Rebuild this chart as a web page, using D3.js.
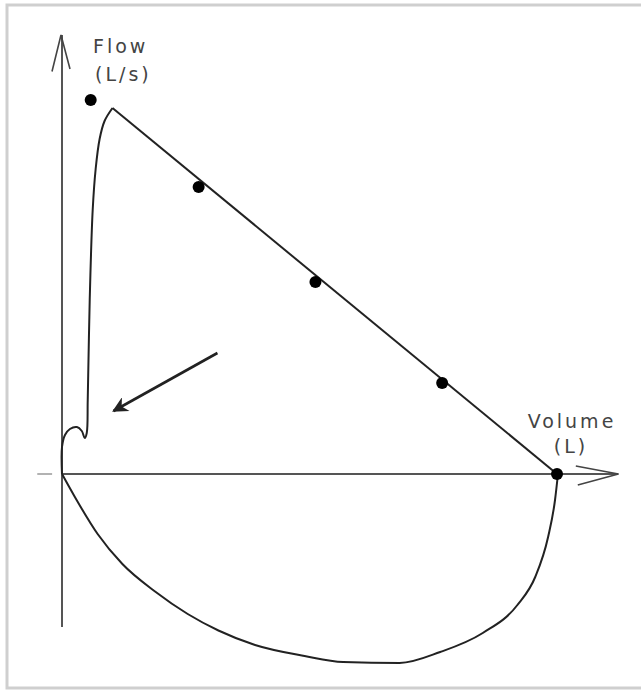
<!DOCTYPE html>
<html>
<head>
<meta charset="utf-8">
<script src="https://cdn.jsdelivr.net/npm/d3@7"></script>
<style>
  html, body { margin: 0; padding: 0; background: #fff; }
  svg { display: block; }
  .lbl { font-family: "DejaVu Sans", sans-serif; font-size: 19px; fill: #444; letter-spacing: 3px; }
</style>
</head>
<body>
<div id="chart"></div>
<script>
const w = 641;
const h = 691;

// volume (L) and flow (L/s)
const riseVol  = [0, 0, 0.03, 0.08, 0.15, 0.20, 0.23, 0.25, 0.26, 0.28, 0.31, 0.34, 0.38, 0.43, 0.51];
const riseFlow = [0, 0.54, 0.78, 0.90, 0.94, 0.86, 0.72, 0.82, 1.48, 3.48, 5.28, 6.10, 6.70, 7.06, 7.32];

const declineVol  = [0.51, 5.0];
const declineFlow = [7.32, 0];

const inspVol  = [0, 0.13, 0.36, 0.61, 0.94, 1.27, 1.58, 1.95, 2.45, 2.84, 3.41, 3.82, 4.25, 4.60, 4.78, 4.91, 4.98, 5.01];
const inspFlow = [0, -0.46, -1.20, -1.80, -2.35, -2.80, -3.13, -3.42, -3.64, -3.76, -3.78, -3.56, -3.18, -2.62, -2.06, -1.26, -0.52, 0];

const dotVol  = [0.29, 1.38, 2.56, 3.84, 5.0];
const dotFlow = [7.48, 5.74, 3.84, 1.82, 0];

const xLabel = ['Volume', '(L)'];
const yLabel = ['Flow', '(L/s)'];

const svg = d3.select('#chart').append('svg').attr('width', w).attr('height', h);

const x = d3.scaleLinear().domain([0, 5]).range([62, 557]);
const y = d3.scaleLinear().domain([-3, 9]).range([624, 24]);

// frame
svg.append('rect')
   .attr('x', 7).attr('y', 5)
   .attr('width', 645).attr('height', 683)
   .attr('fill', 'none').attr('stroke', '#cfcfcf').attr('stroke-width', 3);

// axes
const axisCol = '#555';
svg.append('line').attr('x1', x(0)).attr('x2', x(0)).attr('y1', y(8.78)).attr('y2', y(-3.06))
   .attr('stroke', axisCol).attr('stroke-width', 2);
svg.append('line').attr('x1', x(0)).attr('x2', x(5.62)).attr('y1', y(0)).attr('y2', y(0))
   .attr('stroke', axisCol).attr('stroke-width', 2);
svg.append('line').attr('x1', x(-0.25)).attr('x2', x(-0.1)).attr('y1', y(0)).attr('y2', y(0))
   .attr('stroke', '#999').attr('stroke-width', 1.5);

// open arrowheads on axes
const yTip = [x(0) - 1, y(8.78)];
svg.append('path')
   .attr('d', `M${x(0) - 10},${y(8.05)} L${yTip[0]},${yTip[1]} L${x(0) + 8},${y(8.1)}`)
   .attr('fill', 'none').attr('stroke', '#444').attr('stroke-width', 1.6);
const xTip = [x(5.62), y(0)];
svg.append('path')
   .attr('d', `M${x(5.19)},${y(0.16)} L${xTip[0]},${xTip[1]} L${x(5.21)},${y(-0.22)}`)
   .attr('fill', 'none').attr('stroke', '#444').attr('stroke-width', 1.6);

const curveCol = '#222';
const smooth = d3.line().x(d => x(d[0])).y(d => y(d[1])).curve(d3.curveCatmullRom.alpha(0.5));
const mono = d3.line().x(d => x(d[0])).y(d => y(d[1])).curve(d3.curveMonotoneX);
const straight = d3.line().x(d => x(d[0])).y(d => y(d[1]));

svg.append('path').datum(d3.zip(riseVol, riseFlow))
   .attr('d', smooth).attr('fill', 'none').attr('stroke', curveCol).attr('stroke-width', 2);
svg.append('path').datum(d3.zip(declineVol, declineFlow))
   .attr('d', straight).attr('fill', 'none').attr('stroke', curveCol).attr('stroke-width', 2);
svg.append('path').datum(d3.zip(inspVol, inspFlow))
   .attr('d', mono).attr('fill', 'none').attr('stroke', curveCol).attr('stroke-width', 2);

// predicted points
svg.selectAll('circle.dot')
   .data(d3.zip(dotVol, dotFlow))
   .enter()
   .append('circle')
   .attr('class', 'dot')
   .attr('cx', d => x(d[0])).attr('cy', d => y(d[1]))
   .attr('r', 6).attr('fill', '#000');

// pointer arrow
svg.append('defs').append('marker')
   .attr('id', 'head').attr('viewBox', '0 0 10 10')
   .attr('refX', 9).attr('refY', 5)
   .attr('markerWidth', 8).attr('markerHeight', 6)
   .attr('markerUnits', 'strokeWidth')
   .attr('orient', 'auto')
   .append('path').attr('d', 'M0,0 L10,5 L0,10 L3,5 Z').attr('fill', '#222');

svg.append('line')
   .attr('x1', x(1.57)).attr('y1', y(2.42))
   .attr('x2', x(0.52)).attr('y2', y(1.26))
   .attr('stroke', '#222').attr('stroke-width', 2.6)
   .attr('marker-end', 'url(#head)');

// labels
svg.append('text').attr('class', 'lbl').attr('x', 93).attr('y', 53).text(yLabel[0]);
svg.append('text').attr('class', 'lbl').attr('x', 95).attr('y', 81).text(yLabel[1]);
svg.append('text').attr('class', 'lbl').attr('x', 572).attr('y', 428).attr('text-anchor', 'middle').text(xLabel[0]);
svg.append('text').attr('class', 'lbl').attr('x', 571).attr('y', 453).attr('text-anchor', 'middle').text(xLabel[1]);
</script>
</body>
</html>
